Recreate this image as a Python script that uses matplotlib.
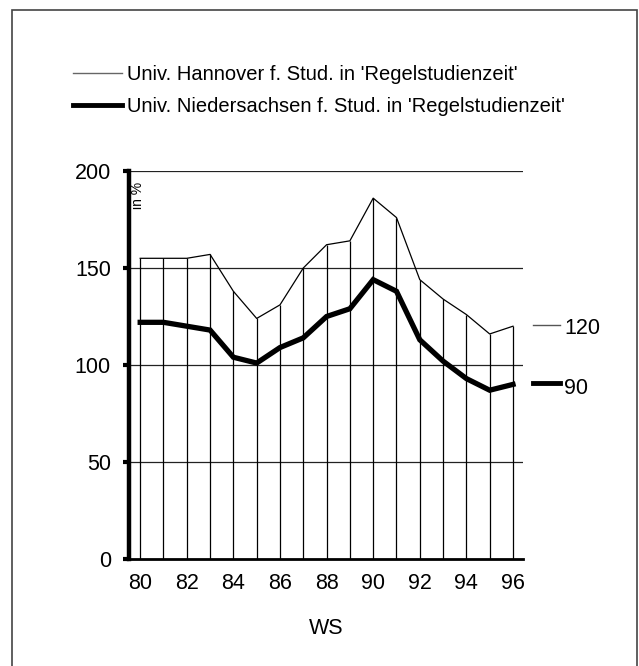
import matplotlib
matplotlib.use("Agg")
import matplotlib.pyplot as plt
from matplotlib.patches import Rectangle
from matplotlib.lines import Line2D

plt.rcParams['font.family'] = ['Liberation Sans', 'DejaVu Sans']

years = [80, 81, 82, 83, 84, 85, 86, 87, 88, 89, 90, 91, 92, 93, 94, 95, 96]
hannover = [155, 155, 155, 157, 138, 124, 131, 150, 162, 164, 186, 176, 144, 134, 126, 116, 120]
niedersachsen = [122, 122, 120, 118, 104, 101, 109, 114, 125, 129, 144, 138, 113, 102, 93, 87, 90]
xticks = [80, 82, 84, 86, 88, 90, 92, 94, 96]
yticks = [0, 50, 100, 150, 200]
label_h = "Univ. Hannover f. Stud. in 'Regelstudienzeit'"
label_n = "Univ. Niedersachsen f. Stud. in 'Regelstudienzeit'"

W, H = 639, 666
fig = plt.figure(figsize=(W / 100, H / 100), dpi=100)

def fx(px):
    return px / W

def fy(py):
    return 1 - py / H

FS = 15.5

# outer frame
fig.patches.append(Rectangle((fx(12), fy(690)), fx(637) - fx(12), fy(10) - fy(690),
                             transform=fig.transFigure, fill=False,
                             edgecolor='#444444', linewidth=1.2))

ax = fig.add_axes([fx(129), fy(559), fx(523) - fx(129), fy(171) - fy(559)])
ax.set_xlim(79.52, 96.43)
ax.set_ylim(0, 200)

for y in yticks[1:]:
    ax.axhline(y, color='#222222', linewidth=0.9, zorder=1)

ax.vlines(years, 0, hannover, colors='black', linewidth=0.9, zorder=2)
ax.plot(years, hannover, color='black', linewidth=0.9, zorder=3)
ax.plot(years, niedersachsen, color='black', linewidth=3.8, zorder=4,
        solid_joinstyle='miter')

for s in ['top', 'right']:
    ax.spines[s].set_visible(False)
ax.spines['left'].set_linewidth(3.2)
ax.spines['bottom'].set_linewidth(2.0)

ax.set_xticks(xticks)
ax.set_xticklabels([str(x) for x in xticks], fontsize=FS)
ax.tick_params(axis='x', length=0, pad=10)
ax.set_yticks(yticks)
ax.set_yticklabels([str(y) for y in yticks], fontsize=FS)
ax.tick_params(axis='y', length=4, width=3, pad=9, direction='out')
ax.set_xlabel('WS', fontsize=FS, labelpad=17)

fig.text(fx(137.5), fy(182), 'in %', rotation=90, fontsize=10,
         ha='center', va='top', zorder=10)

# legend
fig.add_artist(Line2D([fx(73), fx(122)], [fy(73), fy(73)], color='#666666',
                      linewidth=1.0, transform=fig.transFigure))
fig.add_artist(Line2D([fx(73), fx(122)], [fy(105), fy(105)], color='black',
                      linewidth=3.5, transform=fig.transFigure))
fig.text(fx(127), fy(74), label_h, fontsize=14.5, va='center', ha='left')
fig.text(fx(127), fy(107), label_n, fontsize=14.5, va='center', ha='left')

# end labels
fig.add_artist(Line2D([fx(533), fx(560)], [fy(325), fy(325)], color='#555555',
                      linewidth=1.0, transform=fig.transFigure))
fig.add_artist(Line2D([fx(533), fx(560)], [fy(383), fy(383)], color='black',
                      linewidth=3.5, transform=fig.transFigure))
fig.text(fx(564), fy(329), str(hannover[-1]), fontsize=FS, va='center', ha='left')
fig.text(fx(564), fy(388), str(niedersachsen[-1]), fontsize=FS, va='center', ha='left')

fig.savefig('out.png', dpi=100)
